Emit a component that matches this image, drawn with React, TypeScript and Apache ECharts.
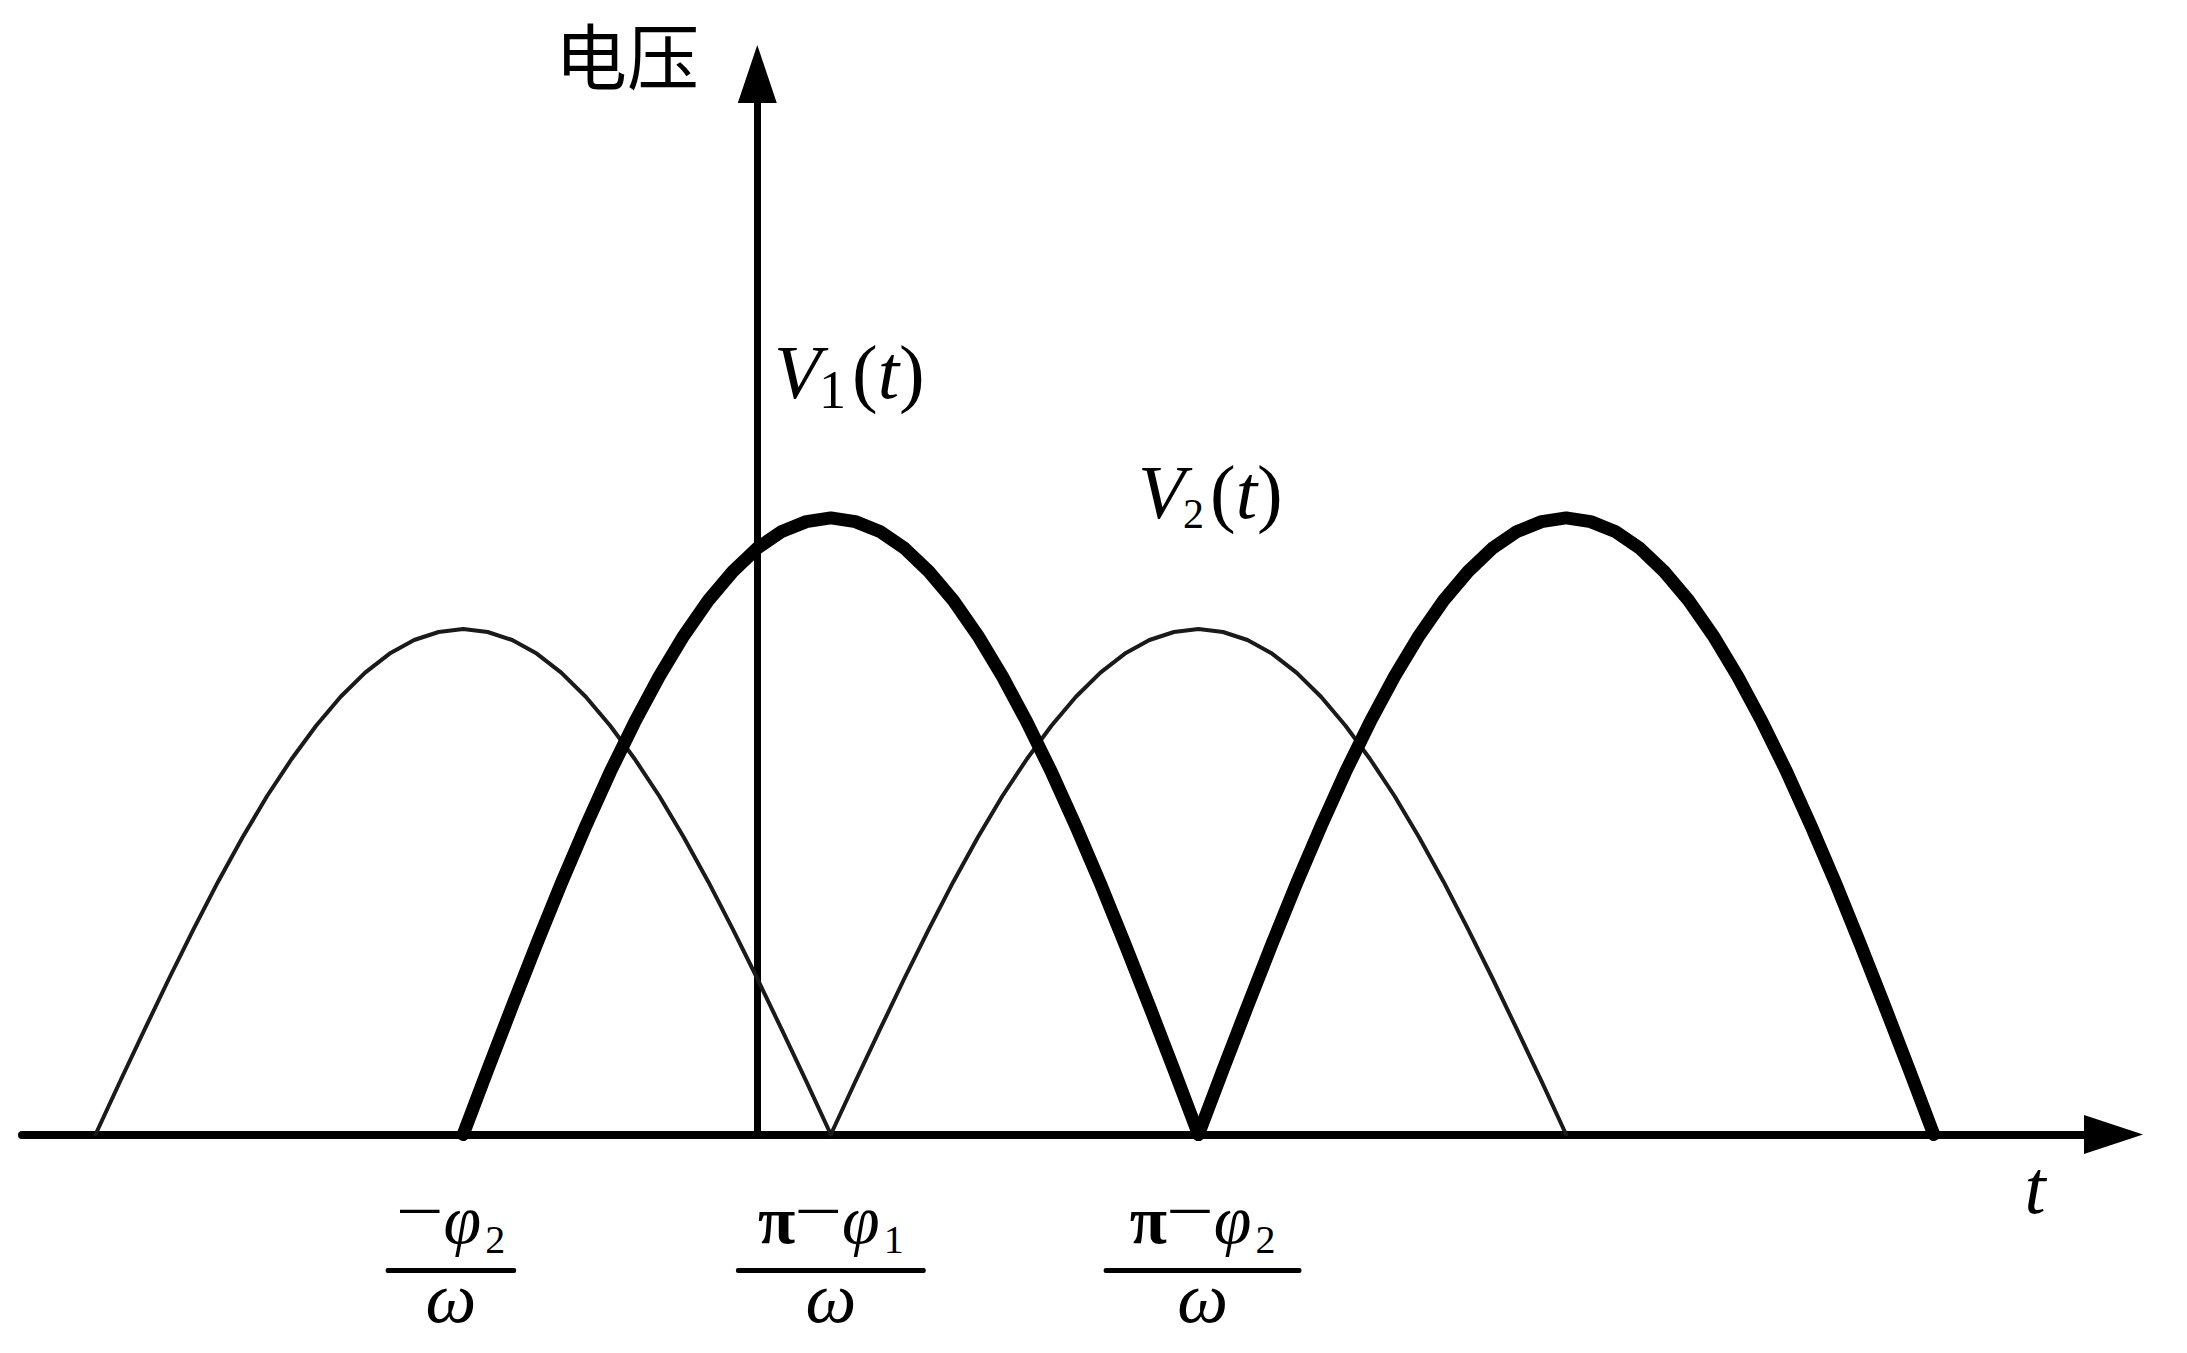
import React, { useEffect, useRef } from 'react';
import * as echarts from 'echarts';

// ---- data (x in degrees of ωt, y normalised to the thick peak) ----
const thinArch1X = [-162, -156, -150, -144, -138, -132, -126, -120, -114, -108, -102, -96, -90, -84, -78, -72, -66, -60, -54, -48, -42, -36, -30, -24, -18, -12, -6, 0, 6, 12, 18];
const thinArch2X = [18, 24, 30, 36, 42, 48, 54, 60, 66, 72, 78, 84, 90, 96, 102, 108, 114, 120, 126, 132, 138, 144, 150, 156, 162, 168, 174, 180, 186, 192, 198];
const thickArch1X = [-72, -66, -60, -54, -48, -42, -36, -30, -24, -18, -12, -6, 0, 6, 12, 18, 24, 30, 36, 42, 48, 54, 60, 66, 72, 78, 84, 90, 96, 102, 108];
const thickArch2X = [108, 114, 120, 126, 132, 138, 144, 150, 156, 162, 168, 174, 180, 186, 192, 198, 204, 210, 216, 222, 228, 234, 240, 246, 252, 258, 264, 270, 276, 282, 288];
const thinArchY = [0, 0.086, 0.17, 0.253, 0.333, 0.41, 0.482, 0.549, 0.609, 0.663, 0.71, 0.749, 0.78, 0.802, 0.815, 0.82, 0.815, 0.802, 0.78, 0.749, 0.71, 0.663, 0.609, 0.549, 0.482, 0.41, 0.333, 0.253, 0.17, 0.086, 0];
const thickArchY = [0, 0.105, 0.208, 0.309, 0.407, 0.5, 0.588, 0.669, 0.743, 0.809, 0.866, 0.913, 0.951, 0.978, 0.994, 1.0, 0.994, 0.978, 0.951, 0.913, 0.866, 0.809, 0.743, 0.669, 0.588, 0.5, 0.407, 0.309, 0.208, 0.105, 0];

const xAxisRange = [-180, 332];
const yAxisRange = [0, 1.72];

// tick labels (fractions under the t axis)
const tickValues = [-75, 18, 109];
const tickLead = ['', 'π', 'π'];
const tickSymbol = ['φ', 'φ', 'φ'];
const tickSub = ['2', '1', '2'];
const tickDenominator = 'ω';

const yAxisName = '电压';
const xAxisName = 't';
const curveLabelSub = ['1', '2'];

const SERIF = 'Liberation Serif';
const CENTRAL = 0.3375; // baseline offset of 'central' for Liberation Serif

const ctx = typeof document !== 'undefined' ? document.createElement('canvas').getContext('2d') : null;
function fontStr(p: any) {
  return `${p.italic ? 'italic ' : ''}${p.bold ? 'bold ' : ''}${p.size}px ${SERIF}`;
}
function measure(p: any) {
  const base = ctx ? (ctx.font = fontStr(p), ctx.measureText(p.text).width) : p.text.length * p.size * 0.5;
  return base * (p.sx || 1);
}

type Piece = { text: string; size: number; italic?: boolean; bold?: boolean; dy?: number; dx?: number; sx?: number };

function runWidth(pieces: Piece[]) {
  return pieces.reduce((s, p) => s + measure(p) + (p.dx || 0), 0);
}

function layoutRun(pieces: Piece[], startX: number, baseline: number) {
  const out: any[] = [];
  let x = startX;
  pieces.forEach((p) => {
    x += p.dx || 0;
    out.push({
      type: 'text',
      x,
      y: baseline + (p.dy || 0) - CENTRAL * p.size,
      scaleX: p.sx || 1,
      silent: true,
      z: 10,
      style: {
        text: p.text,
        fill: '#000',
        font: fontStr(p),
        align: 'left',
        verticalAlign: 'middle',
      },
    });
    x += measure(p);
  });
  return out;
}

const barExtra = [22, 44, 52];

function buildGraphics(chart: any) {
  const g: any[] = [];
  const axisY = chart.convertToPixel({ yAxisIndex: 0 }, 0);

  tickValues.forEach((v, i) => {
    const cx = chart.convertToPixel({ xAxisIndex: 0 }, v);
    const pieces: Piece[] = [];
    if (tickLead[i]) pieces.push({ text: tickLead[i], size: 68, bold: true });
    pieces.push({ text: '−', size: 68, dy: -9, sx: 1.25, dx: -1 });
    pieces.push({ text: tickSymbol[i], size: 68, italic: true, dx: 0 });
    pieces.push({ text: tickSub[i], size: 40, dy: 10, dx: 4 });
    const w = runWidth(pieces);
    g.push(...layoutRun(pieces, cx - w / 2, axisY + 108.5));
    const bw = w + barExtra[i];
    g.push({
      type: 'rect',
      silent: true,
      z: 10,
      shape: { x: cx - bw / 2, y: axisY + 133.5, width: bw, height: 5, r: 2 },
      style: { fill: '#000' },
    });
    const den: Piece[] = [{ text: tickDenominator, size: 72, italic: true }];
    const dw = runWidth(den);
    g.push(...layoutRun(den, cx - dw / 2, axisY + 187.5));
  });

  // V1(t) and V2(t)
  const vLabel = (sub: string, subSize: number): Piece[] => [
    { text: 'V', size: 77, italic: true },
    { text: sub, size: subSize, dy: 10, dx: -2 },
    { text: '(', size: 77, dx: 6 },
    { text: 't', size: 77, italic: true },
    { text: ')', size: 77 },
  ];
  g.push(...layoutRun(vLabel(curveLabelSub[0], 54), 774, 398));
  g.push(...layoutRun(vLabel(curveLabelSub[1], 42), 1138, 518));

  // axis names
  g.push({
    type: 'text',
    x: 627,
    y: 52,
    silent: true,
    z: 10,
    style: {
      text: yAxisName,
      fill: '#000',
      font: '72px Noto Sans CJK SC',
      align: 'center',
      verticalAlign: 'middle',
    },
  });
  g.push({
    type: 'text',
    x: 2035,
    y: 1213 - CENTRAL * 76,
    silent: true,
    z: 10,
    style: {
      text: xAxisName,
      fill: '#000',
      font: fontStr({ size: 76, italic: true }),
      align: 'center',
      verticalAlign: 'middle',
    },
  });
  return g;
}

function arch(xs: number[], ys: number[], width: number, color: string) {
  return {
    type: 'line',
    data: xs.map((x, i) => [x, ys[i]]),
    smooth: false,
    symbol: 'none',
    silent: true,
    z: 3,
    lineStyle: { color, width, cap: 'round', join: 'round' },
  };
}

export default function App() {
  const ref = useRef<HTMLDivElement>(null);
  useEffect(() => {
    const el = ref.current;
    if (!el) return;
    const chart = echarts.init(el, null, { renderer: 'svg' });
    chart.setOption({
      animation: false,
      backgroundColor: '#ffffff',
      grid: { left: 22, right: 73.5, top: 74, bottom: 218.5, containLabel: false },
      xAxis: {
        type: 'value',
        min: xAxisRange[0],
        max: xAxisRange[1],
        axisLine: {
          show: true,
          onZero: true,
          symbol: ['none', 'triangle'],
          symbolSize: [39, 59],
          lineStyle: { color: '#000', width: 8, cap: 'round' },
        },
        axisTick: { show: false },
        axisLabel: { show: false },
        splitLine: { show: false },
      },
      yAxis: {
        type: 'value',
        min: yAxisRange[0],
        max: yAxisRange[1],
        axisLine: {
          show: true,
          onZero: true,
          symbol: ['none', 'triangle'],
          symbolSize: [39, 58],
          lineStyle: { color: '#000', width: 7 },
        },
        axisTick: { show: false },
        axisLabel: { show: false },
        splitLine: { show: false },
      },
      series: [
        arch(thinArch1X, thinArchY, 4, '#1a1a1a'),
        arch(thinArch2X, thinArchY, 4, '#1a1a1a'),
        arch(thickArch1X, thickArchY, 13, '#000'),
        arch(thickArch2X, thickArchY, 13, '#000'),
      ],
    });
    chart.setOption({ graphic: buildGraphics(chart) });
    return () => chart.dispose();
  }, []);
  return (
    <div
      ref={ref}
      style={{ position: 'fixed', left: 0, top: 0, width: 2187, height: 1353, background: '#fff' }}
    />
  );
}
